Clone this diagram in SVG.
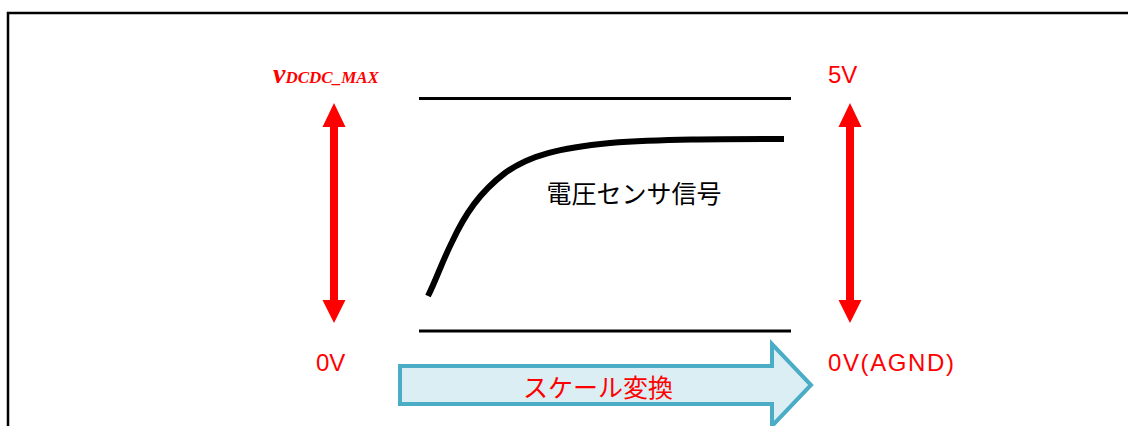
<svg xmlns="http://www.w3.org/2000/svg" width="1128" height="426" viewBox="0 0 1128 426">
<style>
.red{fill:#FF0000;font-family:"Liberation Sans",Arial,"Noto Sans CJK JP",sans-serif;font-size:24px}
.jp{font-family:"Liberation Sans",Arial,"Noto Sans CJK JP",sans-serif;font-size:25px}
.ln{stroke:#000;stroke-width:3;fill:none}
.ra{fill:#FF0000}
</style>
<rect width="1128" height="426" fill="#fff"/>
<g id="frame"><path d="M8 426 V13 H1128" fill="none" stroke="#000" stroke-width="2.5"/></g>
<g id="levels">
<line class="ln" x1="419" y1="98.5" x2="791" y2="98.5"/>
<line class="ln" x1="419" y1="331" x2="791" y2="331"/>
</g>
<g id="signal">
<path d="M428 296 C436 280 442 262 452 242 C465 214 480 192 505 173 C530 155 560 148 610 143 C660 139 720 139 784 139" fill="none" stroke="#000" stroke-width="6" stroke-linecap="butt"/>
<text class="jp" x="634" y="203" text-anchor="middle" fill="#000">電圧センサ信号</text>
</g>
<g id="connectors">
<g id="left-arrow"><polygon class="ra" points="334,103 345.5,127 338,127 338,300 345.5,300 334,323 322.5,300 330,300 330,127 322.5,127"/></g>
<g id="right-arrow"><polygon class="ra" points="850,103 861.5,127 854,127 854,300 861.5,300 850,323 838.5,300 846,300 846,127 838.5,127"/></g>
</g>
<g id="labels">
<text x="273" y="83" fill="#FF0000" font-family="'Liberation Serif','Times New Roman',serif" font-style="italic" font-weight="bold"><tspan font-size="28">v</tspan><tspan font-size="17">DCDC_MAX</tspan></text>
<text class="red" x="828" y="83">5V</text>
<text class="red" x="316" y="371">0V</text>
<text class="red" x="828" y="371" textLength="126" lengthAdjust="spacing">0V(AGND)</text>
</g>
<g id="scale-arrow">
<polygon points="400,366 772,366 772,344 811,385 772,426 772,404 400,404" fill="#DAEEF3" stroke="#4BACC6" stroke-width="4"/>
<text class="jp" x="598" y="397" text-anchor="middle" fill="#FF0000">スケール変換</text>
</g>
</svg>
